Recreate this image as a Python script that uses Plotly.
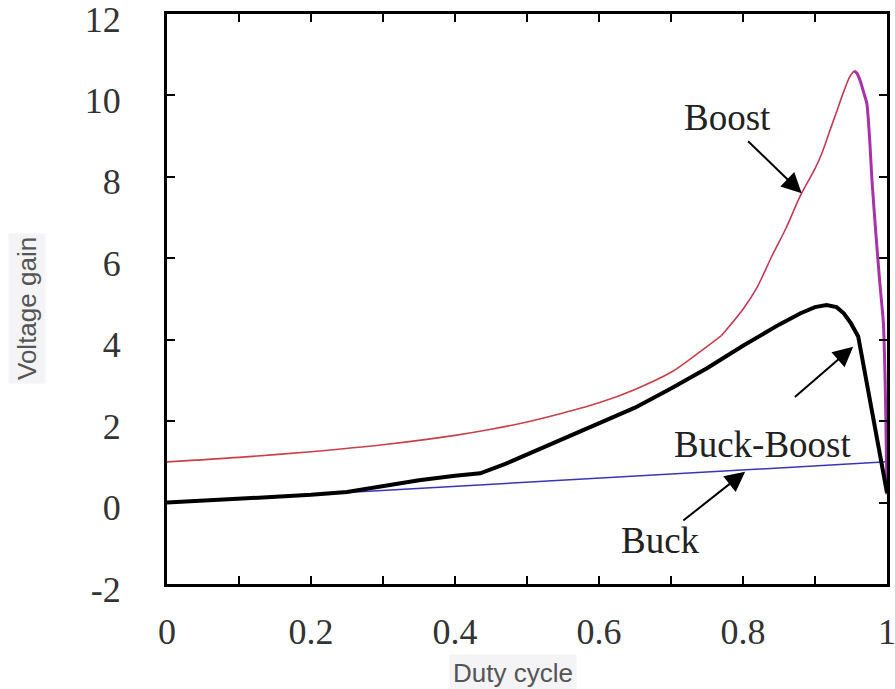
import plotly.graph_objects as go

# ---- data ----
duty_boost_rise = [0.0, 0.1, 0.2, 0.3, 0.4, 0.45, 0.5, 0.55, 0.6, 0.65, 0.7, 0.74, 0.77]
gain_boost_rise = [1.0, 1.11, 1.25, 1.42, 1.65, 1.8, 1.98, 2.2, 2.45, 2.78, 3.2, 3.7, 4.1]

duty_boost_top = [0.77, 0.8, 0.82, 0.84, 0.86, 0.88, 0.9, 0.91, 0.92, 0.93, 0.94, 0.948, 0.954]
gain_boost_top = [4.1, 4.75, 5.3, 6.05, 6.75, 7.55, 8.2, 8.6, 9.1, 9.6, 10.1, 10.45, 10.6]

duty_boost_fall = [0.954, 0.958, 0.963, 0.968, 0.972, 0.976, 0.979, 0.985, 0.99, 0.995, 0.998, 1.0]
gain_boost_fall = [10.6, 10.55, 10.35, 10.05, 9.8, 8.9, 7.95, 6.5, 5.4, 4.4, 2.5, 0.2]

duty_buckboost = [0.0, 0.1, 0.2, 0.25, 0.3, 0.35, 0.4, 0.435, 0.47, 0.5, 0.55, 0.6, 0.65,
                  0.7, 0.75, 0.8, 0.85, 0.88, 0.9, 0.916, 0.93, 0.94, 0.95, 0.96, 1.0]
gain_buckboost = [0.0, 0.09, 0.19, 0.26, 0.4, 0.55, 0.66, 0.72, 0.95, 1.18, 1.55, 1.93, 2.33,
                  2.8, 3.3, 3.85, 4.37, 4.65, 4.8, 4.85, 4.8, 4.65, 4.4, 4.08, 0.24]

duty_buck = [0.0, 1.0]
gain_buck = [0.0, 1.0]

x_tick_vals = [0.0, 0.1, 0.2, 0.3, 0.4, 0.5, 0.6, 0.7, 0.8, 0.9, 1.0]
x_tick_text = ["0", "", "0.2", "", "0.4", "", "0.6", "", "0.8", "", "1"]
y_tick_vals = [-2, 0, 2, 4, 6, 8, 10, 12]
y_tick_text = ["-2", "0", "2", "4", "6", "8", "10", "12"]

SERIF = "Liberation Serif, Times New Roman, serif"
SANS = "Liberation Sans, Arial, sans-serif"

fig = go.Figure()
fig.add_trace(go.Scatter(x=duty_buck, y=gain_buck, mode="lines",
                         line=dict(color="#3a35b8", width=1.5), name="Buck"))
fig.add_trace(go.Scatter(x=duty_boost_rise, y=gain_boost_rise, mode="lines",
                         line=dict(color="#c8404a", width=1.6, shape="spline", smoothing=0.8),
                         name="Boost"))
fig.add_trace(go.Scatter(x=duty_boost_top, y=gain_boost_top, mode="lines",
                         line=dict(color="#c23a58", width=1.6, shape="spline", smoothing=0.8),
                         name="Boost2"))
fig.add_trace(go.Scatter(x=duty_boost_fall, y=gain_boost_fall, mode="lines",
                         line=dict(color="#a832a8", width=3, shape="spline", smoothing=0.6),
                         name="Boost3"))
fig.add_trace(go.Scatter(x=duty_buckboost, y=gain_buckboost, mode="lines",
                         line=dict(color="#000000", width=4), name="Buck-Boost"))

arrow_common = dict(xref="x", yref="y", axref="x", ayref="y", showarrow=True,
                    arrowhead=2, arrowsize=2, arrowwidth=2, arrowcolor="black", text="")
fig.add_annotation(x=0.8815, y=7.60, ax=0.805, ay=8.91, **arrow_common)
fig.add_annotation(x=0.953, y=3.83, ax=0.870, ay=2.56, **arrow_common)
fig.add_annotation(x=0.803, y=0.76, ax=0.715, ay=-0.47, **arrow_common)

label_font = dict(family=SERIF, size=37, color="#222222")
fig.add_annotation(x=0.778, y=9.45, text="Boost", showarrow=False, font=label_font)
fig.add_annotation(x=0.828, y=1.415, text="Buck-Boost", showarrow=False, font=label_font)
fig.add_annotation(x=0.685, y=-0.92, text="Buck", showarrow=False, font=label_font)

title_font = dict(family=SANS, size=26, color="#555555")
fig.add_annotation(xref="paper", yref="paper", x=(513 - 167) / 720, y=-(673 - 584) / 570,
                   xanchor="center", yanchor="middle",
                   text="Duty cycle", showarrow=False, font=title_font,
                   bgcolor="#f4f4f6", borderpad=3)
fig.add_annotation(xref="paper", yref="paper", x=-(167 - 27) / 720, y=(584 - 309) / 570,
                   xanchor="center", yanchor="middle",
                   text="Voltage gain", showarrow=False, font=title_font, textangle=-90,
                   bgcolor="#f4f4f6", borderpad=3)

axis_common = dict(showline=True, linecolor="black", linewidth=3, mirror="ticks",
                   ticks="inside", ticklen=8, tickwidth=2, tickcolor="black",
                   showgrid=False, zeroline=False, ticklabeloverflow="allow",
                   automargin=False,
                   tickfont=dict(family=SERIF, size=36, color="#333333"))
fig.update_xaxes(range=[0, 1], tickmode="array", tickvals=x_tick_vals, ticktext=x_tick_text,
                 ticklabelstandoff=14, **axis_common)
fig.update_yaxes(range=[-2, 12], tickmode="array", tickvals=y_tick_vals, ticktext=y_tick_text,
                 ticklabelstandoff=36, ticklabelshift=5, **axis_common)

fig.update_layout(width=895, height=689, showlegend=False,
                  margin=dict(l=167, r=8, t=14, b=105),
                  paper_bgcolor="white", plot_bgcolor="white")
fig.write_html("out.html")
